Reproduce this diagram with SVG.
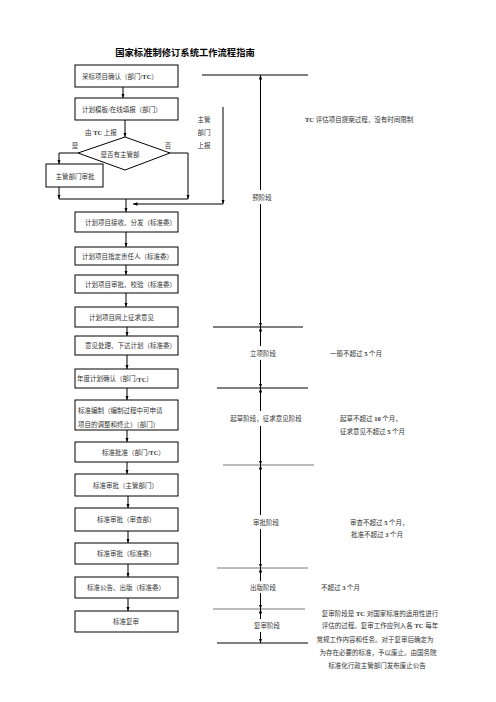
<svg xmlns="http://www.w3.org/2000/svg" width="496" height="702" viewBox="0 0 496 702">
<style>
text{font-family:"Liberation Serif","Noto Sans CJK SC",serif;font-size:6.5px;fill:#333;dominant-baseline:central}
.title{font-size:9.3px;font-weight:bold;fill:#000;text-anchor:middle}
.mid{text-anchor:middle}
.b{font-weight:bold}
rect,polygon{fill:#fff;stroke:#000;stroke-width:1}
.c{fill:none;stroke:#000;stroke-width:1}
.g{stroke:#777}
</style>
<defs>
<marker id="ah" viewBox="0 0 8 6" refX="8" refY="3" markerWidth="4.5" markerHeight="3.6" markerUnits="userSpaceOnUse" orient="auto"><path d="M0,0 L8,3 L0,6 z" fill="#000"/></marker>
</defs>
<rect x="0" y="0" width="496" height="702" style="fill:#fff;stroke:none"/>
<text class="title" x="185" y="53">国家标准制修订系统工作流程指南</text>

<g id="connectors">
<path class="c" d="M123,87 V98" marker-end="url(#ah)"/>
<path class="c" d="M125,120 V137" marker-end="url(#ah)"/>
<path class="c" d="M78,153 H59 V164" marker-end="url(#ah)"/>
<path class="c" d="M59,187 V199" marker-end="url(#ah)"/>
<path class="c" d="M170,153 H188 V199" marker-end="url(#ah)"/>
<path class="c" d="M59,199 H188"/>
<path class="c" d="M126,199 V212" marker-end="url(#ah)"/>
<path class="c" d="M223,107 V204" marker-end="url(#ah)"/>
<path class="c" d="M223,204 H133" marker-end="url(#ah)"/>
<path class="c" d="M126,232 V247" marker-end="url(#ah)"/>
<path class="c" d="M126,265 V275" marker-end="url(#ah)"/>
<path class="c" d="M126,293 V307" marker-end="url(#ah)"/>
<path class="c" d="M127,327 V336" marker-end="url(#ah)"/>
<path class="c" d="M127,355 V369" marker-end="url(#ah)"/>
<path class="c" d="M127,388 V400" marker-end="url(#ah)"/>
<path class="c" d="M127,430 V442" marker-end="url(#ah)"/>
<path class="c" d="M127,462 V474" marker-end="url(#ah)"/>
<path class="c" d="M128,496 V508" marker-end="url(#ah)"/>
<path class="c" d="M128,531 V543" marker-end="url(#ah)"/>
<path class="c" d="M128,564 V577" marker-end="url(#ah)"/>
<path class="c" d="M128,598 V611" marker-end="url(#ah)"/>
</g>

<g id="edge-labels">
<text x="85" y="132">由 <tspan class="b">TC</tspan> 上报</text>
<text class="mid" x="75" y="145">是</text>
<text class="mid" x="168" y="145">否</text>
<text class="mid" x="204" y="119">主管</text>
<text class="mid" x="204" y="132">部门</text>
<text class="mid" x="204" y="145">上报</text>
</g>

<g id="n1"><rect x="75" y="65" width="103" height="22"/><text x="82" y="76">采标项目确认（部门<tspan class="b">/TC</tspan>）</text></g>
<g id="n2"><rect x="75" y="98" width="103" height="22"/><text x="82" y="109">计划模板/在线填报（部门）</text></g>
<g id="n3"><polygon points="125,137 170,153 125,170 78,153"/><text class="mid" x="120" y="154">是否有主管部</text></g>
<g id="n4"><rect x="46" y="164" width="57" height="23"/><text class="mid" x="75" y="176">主管部门审批</text></g>
<g id="n5"><rect x="75" y="212" width="103" height="20"/><text x="85" y="222">计划项目接收、分发（标准委）</text></g>
<g id="n6"><rect x="75" y="247" width="103" height="18"/><text x="82" y="256">计划项目指定责任人（标准委）</text></g>
<g id="n7"><rect x="75" y="275" width="103" height="18"/><text x="85" y="284">计划项目审批、校验（标准委）</text></g>
<g id="n8"><rect x="75" y="307" width="103" height="20"/><text x="89" y="317">计划项目网上征求意见</text></g>
<g id="n9"><rect x="75" y="336" width="103" height="19"/><text x="85" y="345.5">意见处理、下达计划（标准委）</text></g>
<g id="n10"><rect x="75" y="369" width="103" height="19"/><text x="77" y="378.5">年度计划确认（部门<tspan class="b">/TC</tspan>）</text></g>
<g id="n11"><rect x="75" y="400" width="103" height="30"/><text x="78" y="410">标准编制（编制过程中可申请</text><text x="78" y="424">项目的调整和终止）（部门）</text></g>
<g id="n12"><rect x="75" y="442" width="103" height="20"/><text x="102" y="452">标准批准（部门<tspan class="b">/TC</tspan>）</text></g>
<g id="n13"><rect x="75" y="474" width="103" height="22"/><text x="93" y="485">标准审批（主管部门）</text></g>
<g id="n14"><rect x="75" y="508" width="103" height="23"/><text x="97" y="519.5">标准审批（审查部）</text></g>
<g id="n15"><rect x="75" y="543" width="103" height="21"/><text x="97" y="553.5">标准审批（标准委）</text></g>
<g id="n16"><rect x="75" y="577" width="103" height="21"/><text x="87" y="587.5">标准公告、出版（标准委）</text></g>
<g id="n17"><rect x="75" y="611" width="103" height="21"/><text x="113" y="621.5">标准复审</text></g>

<g id="timeline">
<path class="c" d="M202,75 H308"/>
<path class="c" d="M213,327 H303"/>
<path class="c" d="M217,388 H308"/>
<path class="c g" d="M223,465 H314"/>
<path class="c g" d="M217,568 H308"/>
<path class="c g" d="M213,609 H305"/>
<path class="c" d="M217,643 H308"/>
<path class="c" d="M260.5,190 V75" marker-end="url(#ah)"/>
<path class="c" d="M260.5,204 V327" marker-end="url(#ah)"/>
<path class="c" d="M260.5,346 V327" marker-end="url(#ah)"/>
<path class="c" d="M260.5,360 V388" marker-end="url(#ah)"/>
<path class="c" d="M260.5,411 V388" marker-end="url(#ah)"/>
<path class="c" d="M260.5,426 V465" marker-end="url(#ah)"/>
<path class="c" d="M260.5,515 V465" marker-end="url(#ah)"/>
<path class="c" d="M260.5,529 V568" marker-end="url(#ah)"/>
<path class="c" d="M260.5,581 V568" marker-end="url(#ah)"/>
<path class="c" d="M260.5,593 V609" marker-end="url(#ah)"/>
<path class="c" d="M260.5,619 V609" marker-end="url(#ah)"/>
<path class="c" d="M260.5,632 V643" marker-end="url(#ah)"/>
</g>

<g id="stage-pre"><text class="mid" x="262" y="197">预阶段</text><text x="305" y="119"><tspan class="b">TC</tspan> 评估项目提案过程，没有时间限制</text></g>
<g id="stage-approval"><text class="mid" x="263" y="353">立项阶段</text><text x="330" y="353">一般不超过 <tspan class="b">5</tspan> 个月</text></g>
<g id="stage-draft"><text class="mid" x="266" y="418">起草阶段，征求意见阶段</text><text x="340" y="418">起草不超过 <tspan class="b">10</tspan> 个月，</text><text x="340" y="431">征求意见不超过 <tspan class="b">5</tspan> 个月</text></g>
<g id="stage-review"><text class="mid" x="266" y="522">审批阶段</text><text x="350" y="522">审查不超过 <tspan class="b">5</tspan> 个月，</text><text x="351" y="534">批准不超过 <tspan class="b">3</tspan> 个月</text></g>
<g id="stage-publish"><text class="mid" x="263" y="587">出版阶段</text><text x="321" y="587">不超过 <tspan class="b">3</tspan> 个月</text></g>
<g id="stage-reexam"><text class="mid" x="267" y="625">复审阶段</text>
<text class="mid" x="380" y="613">复审阶段是 <tspan class="b">TC</tspan> 对国家标准的适用性进行</text>
<text class="mid" x="380" y="625">评估的过程。复审工作应列入各 <tspan class="b">TC</tspan> 每年</text>
<text class="mid" x="375" y="639">常规工作内容和任务。对于复审后确定为</text>
<text class="mid" x="378" y="652">为存在必要的标准，予以废止。由国务院</text>
<text class="mid" x="377" y="665">标准化行政主管部门发布废止公告</text>
</g>
</svg>
